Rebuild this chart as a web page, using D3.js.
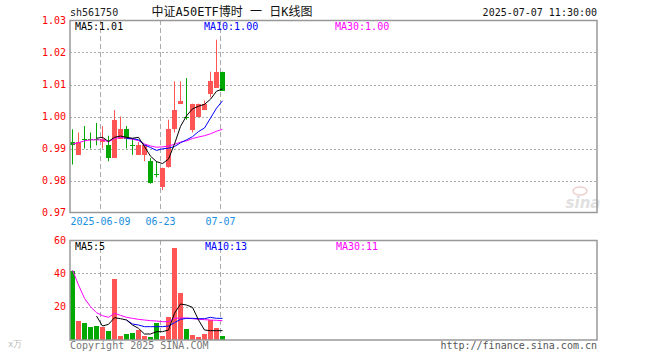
<!DOCTYPE html>
<html><head><meta charset="utf-8">
<script src="https://cdn.jsdelivr.net/npm/d3@7/dist/d3.min.js"></script>
<style>body{margin:0;background:#fff}svg{display:block}</style>
</head><body>
<svg id="c" width="660" height="360"></svg>
<script>
// ---------- data ----------
const dates = ["2025-05-30","2025-06-03","2025-06-04","2025-06-05","2025-06-06","2025-06-09","2025-06-10","2025-06-11","2025-06-12","2025-06-13",
  "2025-06-16","2025-06-17","2025-06-18","2025-06-19","2025-06-20","2025-06-23","2025-06-24","2025-06-25","2025-06-26","2025-06-27",
  "2025-06-30","2025-07-01","2025-07-02","2025-07-03","2025-07-04","2025-07-07"];
const open  = [0.992,0.988,0.993,0.993,0.993,0.992,0.991,0.987,0.993,0.996,0.991,0.988,0.988,0.986,0.982,0.978,0.984,0.996,1.004,1.000,0.996,1.000,1.002,1.007,1.009,1.014];
const high  = [0.996,0.995,0.997,0.995,0.998,0.997,0.994,1.002,1.000,0.997,0.993,0.992,0.991,0.987,0.986,0.984,0.999,1.011,1.011,1.012,1.004,1.004,1.005,1.014,1.024,1.014];
const low   = [0.985,0.988,0.990,0.990,0.991,0.990,0.986,0.987,0.993,0.990,0.988,0.988,0.986,0.979,0.981,0.977,0.984,0.995,1.004,0.999,0.995,1.000,1.002,1.006,1.009,1.008];
const close = [0.991,0.992,0.993,0.993,0.993,0.993,0.987,0.999,0.996,0.993,0.991,0.991,0.991,0.979,0.982,0.984,0.996,1.002,1.005,1.000,1.004,1.004,1.004,1.011,1.014,1.008];
const volume = [41.6,11.6,10.4,8.0,8.6,8.0,5.6,36.6,2.4,3.6,4.2,6.0,2.4,1.8,10.4,2.4,14.0,55.4,28.4,6.6,3.0,1.8,3.6,12.0,7.2,2.4];

const ma5  = [null,null,null,null,0.9932,0.9935,0.9922,0.9935,0.9939,0.9935,0.9932,0.9935,0.9906,0.9876,0.9859,0.9853,0.9867,0.9914,0.9969,1.0002,1.0024,1.0032,1.0038,1.0054,1.0079,1.0086];
const ma10 = [null,null,null,null,null,null,null,null,null,0.9931,0.9931,0.9927,0.9911,0.9903,0.9894,0.9899,0.9901,0.9906,0.9918,0.9927,0.9937,0.9953,0.9964,0.9995,1.0026,1.0049];
const ma30 = [0.9914,0.9918,0.9924,0.9927,0.9927,0.9927,0.9921,0.9931,0.9935,0.9932,0.9929,0.9925,0.9914,0.9908,0.9904,0.9905,0.9908,0.9913,0.9920,0.9924,0.9931,0.9936,0.9940,0.9946,0.9954,0.9960];

const vma5  = [null,null,null,null,14.4,8.4,9.4,13.4,12.8,12.0,9.0,7.0,3.6,3.6,5.0,5.0,6.0,16.0,21.6,21.0,19.6,12.0,6.0,5.6,5.6,5.6];
const vma10 = [null,null,null,null,null,null,null,null,null,12.0,9.6,9.0,8.0,8.0,8.0,8.0,8.4,10.4,12.4,13.0,13.0,12.8,12.8,13.6,13.0,13.0];
const vma30 = [42,33,25,20,16.4,14.6,13.6,16,14.8,13.6,13,12.4,12,11.6,11.4,11,11,13,13.2,13.2,12.8,12.4,12.2,12,11.8,11.6];

const priceTicks = [1.03,1.02,1.01,1.00,0.99,0.98,0.97];
const volTicks = [60,40,20];
const dateTickIdx = [5,15,25];
const dateTickLabels = ["2025-06-09","06-23","07-07"];
const maLabels = ["MA5:1.01","MA10:1.00","MA30:1.00"];
const vmaLabels = ["MA5:5","MA10:13","MA30:11"];
const code = "sh561750";
const title = "中证A50ETF博时 一 日K线图";
const stamp = "2025-07-07 11:30:00";

// ---------- layout ----------
const svg = d3.select("#c");
const L = 70, R = 597, slots = 88;
const x = d3.scaleLinear().domain([0, slots]).range([70, 598]);
const y = d3.scaleLinear().domain([0.97, 1.03]).range([212.5, 20.5]);
const vy = d3.scaleLinear().domain([0, 60]).range([340, 240]);
const bw = 5;
const UP = "#ff5555", DN = "#00a800";
const mono = "'DejaVu Sans Mono', monospace";
const col = i => close[i] > open[i] ? UP : DN;
const idx = d3.range(dates.length);

// header
svg.append("text").attr("x", 70).attr("y", 16).attr("font-family", mono).attr("font-size", 10).attr("fill", "#222").text(code);
svg.append("text").attr("x", 232).attr("y", 16).attr("text-anchor", "middle")
  .attr("font-family", "'DejaVu Sans Mono', 'Noto Sans CJK SC', sans-serif").attr("font-size", 12).attr("fill", "#111")
  .style("white-space", "pre").text(title);
svg.append("text").attr("x", 597).attr("y", 16).attr("text-anchor", "end").attr("font-family", mono).attr("font-size", 10).attr("fill", "#111").text(stamp);

// grid lines
const grid = svg.append("g");
grid.selectAll("line.h").data(priceTicks.slice(1, -1)).join("line")
  .attr("x1", L).attr("x2", R).attr("y1", d => Math.round(y(d)) + 0.5).attr("y2", d => Math.round(y(d)) + 0.5)
  .attr("stroke", "#aaa").attr("stroke-dasharray", "2,2");
grid.selectAll("line.hv").data([40, 20]).join("line")
  .attr("x1", L).attr("x2", R).attr("y1", d => Math.round(vy(d)) + 0.5).attr("y2", d => Math.round(vy(d)) + 0.5)
  .attr("stroke", "#aaa").attr("stroke-dasharray", "2,2");
[[20, 212], [240, 340]].forEach(([t, b]) => {
  grid.append("g").selectAll("line").data(dateTickIdx).join("line")
    .attr("x1", d => x(d) + 0.5).attr("x2", d => x(d) + 0.5).attr("y1", t).attr("y2", b)
    .attr("stroke", "#aaa").attr("stroke-dasharray", "5,3");
});

// watermark
const wm = svg.append("g").attr("opacity", 0.45);
wm.append("text").attr("x", 583).attr("y", 208).attr("text-anchor", "middle").attr("font-family", "'DejaVu Sans', sans-serif")
  .attr("font-style", "italic").attr("font-weight", "bold").attr("font-size", 15).attr("fill", "#bbb").text("sina");
wm.append("ellipse").attr("cx", 580).attr("cy", 191).attr("rx", 7).attr("ry", 4).attr("fill", "none").attr("stroke", "#d99").attr("stroke-width", 1.5);

// candles
const cg = svg.append("g");
cg.selectAll("line").data(idx).join("line")
  .attr("x1", i => x(i) + bw / 2).attr("x2", i => x(i) + bw / 2)
  .attr("y1", i => y(high[i])).attr("y2", i => y(low[i])).attr("stroke", col);
cg.selectAll("rect").data(idx).join("rect")
  .attr("x", i => x(i)).attr("width", bw)
  .attr("y", i => Math.round(y(Math.max(open[i], close[i]))))
  .attr("height", i => Math.max(1, Math.round(Math.abs(y(open[i]) - y(close[i])))))
  .attr("fill", col);

// MA lines
const lineP = d3.line().defined(d => d[1] != null).x(d => x(d[0]) + bw / 2).y(d => y(d[1]));
const lineV = d3.line().defined(d => d[1] != null).x(d => x(d[0]) + bw / 2).y(d => vy(d[1]));
[[ma30, "#ff00ff"], [ma10, "#0000ff"], [ma5, "#000"]].forEach(([a, c]) => {
  svg.append("path").datum(a.map((v, i) => [i, v])).attr("d", lineP).attr("fill", "none").attr("stroke", c).attr("stroke-width", 1);
});

// volume bars
svg.append("g").selectAll("rect").data(idx).join("rect")
  .attr("x", i => x(i)).attr("width", bw)
  .attr("y", i => Math.round(vy(volume[i]))).attr("height", i => 340 - Math.round(vy(volume[i])))
  .attr("fill", col);
[[vma30, "#ff00ff"], [vma10, "#0000ff"], [vma5, "#000"]].forEach(([a, c]) => {
  svg.append("path").datum(a.map((v, i) => [i, v])).attr("d", lineV).attr("fill", "none").attr("stroke", c).attr("stroke-width", 1);
});

// frames
svg.append("rect").attr("x", L).attr("y", 20.5).attr("width", R - L).attr("height", 192).attr("fill", "none").attr("stroke", "#999").attr("stroke-width", 1.5);
svg.append("rect").attr("x", L).attr("y", 240.5).attr("width", R - L).attr("height", 99.5).attr("fill", "none").attr("stroke", "#999").attr("stroke-width", 1.5);

// axes
function styleAxis(g, color) {
  g.select(".domain").remove();
  g.selectAll(".tick line").remove();
  g.selectAll("text").attr("font-family", mono).attr("font-size", 10).attr("fill", color);
}
svg.append("g").attr("transform", `translate(${L},0)`)
  .call(d3.axisLeft(y).tickValues(priceTicks).tickFormat(d3.format(".2f")).tickSize(0).tickPadding(4))
  .call(g => styleAxis(g, "#f00"));
svg.append("g").attr("transform", `translate(${L},0)`)
  .call(d3.axisLeft(vy).tickValues(volTicks).tickFormat(d3.format("d")).tickSize(0).tickPadding(4))
  .call(g => styleAxis(g, "#f00"));
svg.append("g").attr("transform", `translate(0,212)`)
  .call(d3.axisBottom(x).tickValues(dateTickIdx).tickFormat((d, k) => dateTickLabels[k]).tickSize(0).tickPadding(6))
  .call(g => styleAxis(g, "#1a8ee0"));

// MA legends
const legX = [75, 204, 335], legC = ["#000", "#0000ff", "#ff00ff"];
maLabels.forEach((t, k) => svg.append("text").attr("x", legX[k]).attr("y", 30).attr("font-family", mono).attr("font-size", 10).attr("fill", legC[k]).text(t));
vmaLabels.forEach((t, k) => svg.append("text").attr("x", legX[k] + (k ? 1 : 0)).attr("y", 250).attr("font-family", mono).attr("font-size", 10).attr("fill", legC[k]).text(t));

// footer
svg.append("text").attr("x", 8).attr("y", 347).attr("font-family", mono).attr("font-size", 9).attr("fill", "#bbb").text("x万");
svg.append("text").attr("x", 70).attr("y", 349).attr("font-family", mono).attr("font-size", 10).attr("fill", "#777").text("Copyright 2025 SINA.COM");
svg.append("text").attr("x", 597).attr("y", 349).attr("text-anchor", "end").attr("font-family", mono).attr("font-size", 10).attr("fill", "#555").text("http://finance.sina.com.cn");
</script>
</body></html>
